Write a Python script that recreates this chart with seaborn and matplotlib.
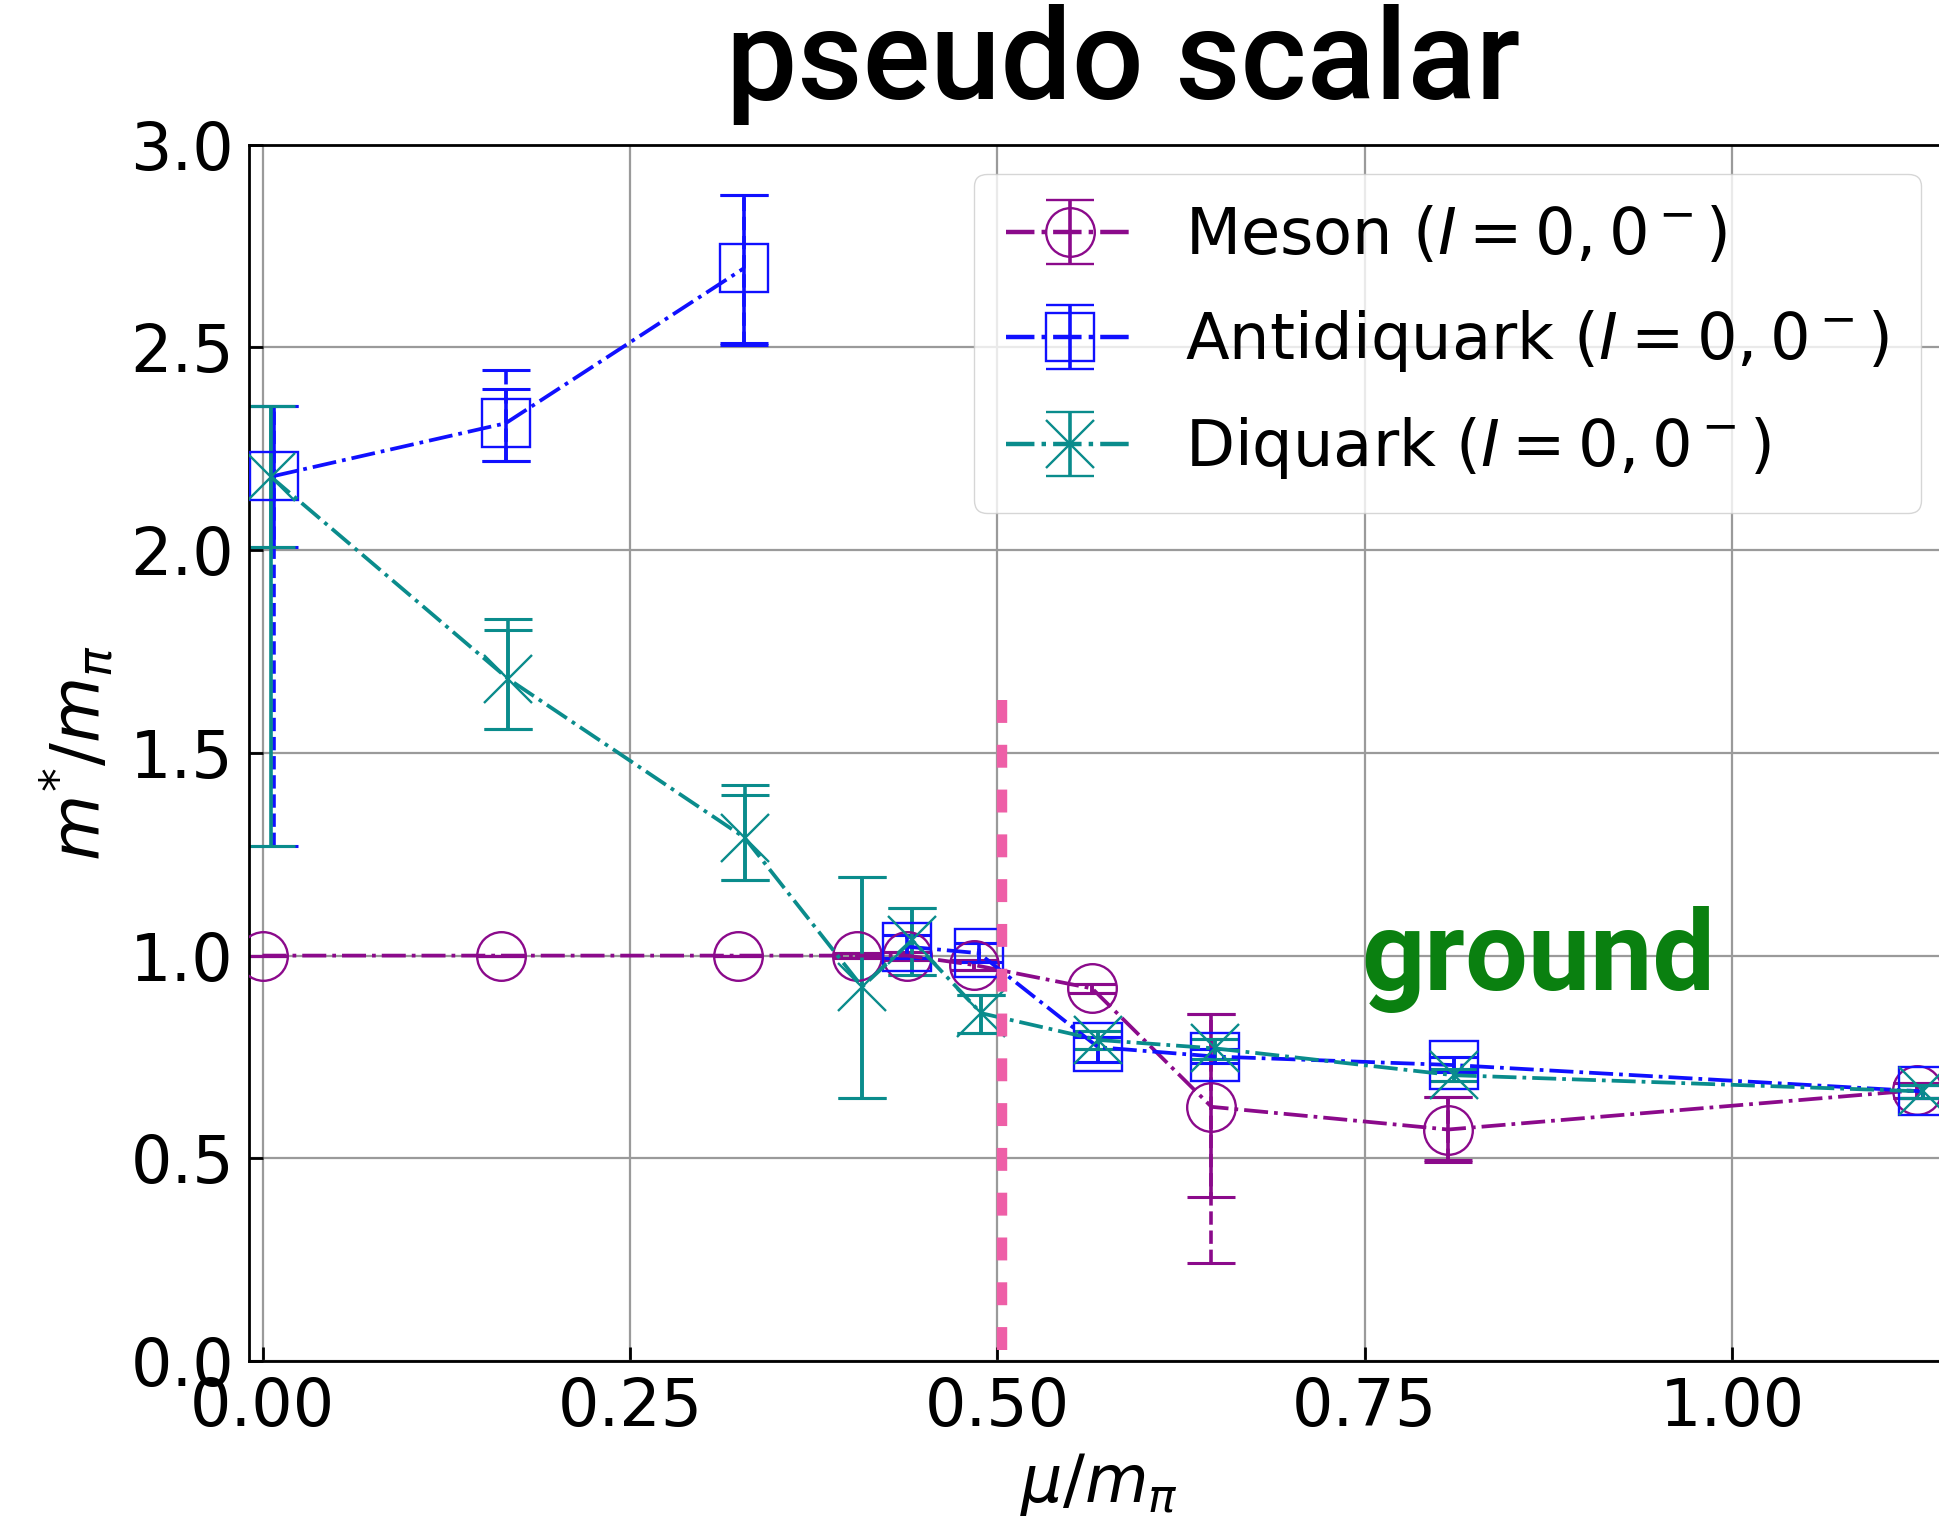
import numpy as np
import pandas as pd
import matplotlib
matplotlib.use("Agg")
import matplotlib.pyplot as plt
import seaborn as sns

# ---------------- data ----------------
mu_meson = [0.0, 0.1626, 0.3232, 0.4045, 0.4387, 0.484, 0.5645, 0.6457, 0.8067, 1.126]
m_meson = [1.0, 1.0, 1.0, 1.0, 1.0, 0.977, 0.919, 0.627, 0.571, 0.668]
meson_lo1 = [1.0, 1.0, 1.0, 0.994, 0.99, 0.965, 0.907, 0.405, 0.496, 0.65]
meson_hi1 = [1.0, 1.0, 1.0, 1.006, 1.01, 0.99, 0.930, 0.856, 0.652, 0.685]
meson_lo2 = [1.0, 1.0, 1.0, 0.994, 0.99, 0.965, 0.907, 0.241, 0.490, 0.65]
meson_hi2 = [1.0, 1.0, 1.0, 1.006, 1.01, 0.99, 0.930, 0.856, 0.652, 0.685]

mu_anti = [0.0078, 0.1654, 0.3274, 0.405, 0.4387, 0.4874, 0.5686, 0.6484, 0.8105, 1.13]
m_anti = [2.183, 2.313, 2.695, np.nan, 1.022, 1.006, 0.774, 0.751, 0.730, 0.665]
anti_lo1 = [2.009, 2.221, 2.512, np.nan, 0.995, 0.985, 0.738, 0.735, 0.712, 0.65]
anti_hi1 = [2.356, 2.397, 2.875, np.nan, 1.05, 1.03, 0.80, 0.77, 0.75, 0.68]
anti_lo2 = [1.270, 2.221, 2.505, np.nan, 0.995, 0.985, 0.738, 0.735, 0.712, 0.65]
anti_hi2 = [2.356, 2.444, 2.875, np.nan, 1.05, 1.03, 0.80, 0.77, 0.75, 0.68]

mu_di = [0.006, 0.167, 0.328, 0.408, 0.442, 0.489, 0.5686, 0.6484, 0.8105, 1.13]
m_di = [2.18, 1.683, 1.291, 0.923, 1.038, 0.858, 0.792, 0.771, 0.705, 0.665]
di_lo1 = [2.009, 1.560, 1.187, 0.648, 0.952, 0.808, 0.77, 0.745, 0.69, 0.65]
di_hi1 = [2.356, 1.803, 1.395, 1.193, 1.117, 0.903, 0.815, 0.795, 0.72, 0.68]
di_lo2 = [1.270, 1.560, 1.187, 0.648, 0.952, 0.808, 0.77, 0.745, 0.69, 0.65]
di_hi2 = [2.356, 1.831, 1.420, 1.193, 1.117, 0.903, 0.815, 0.795, 0.72, 0.68]

labels = [r"Meson $(I=0,0^-)$", r"Antidiquark $(I=0,0^-)$", r"Diquark $(I=0,0^-)$"]
title_text = "pseudo scalar"
note_text = "ground"
mu_c = 0.503          # position of the pink dashed marker line
mu_c_top = 1.63       # its upper end
x_ticks = [0.0, 0.25, 0.5, 0.75, 1.0]
y_ticks = [0.0, 0.5, 1.0, 1.5, 2.0, 2.5, 3.0]

# ---------------- style ----------------
sns.set_theme(style="whitegrid", rc={
    "axes.edgecolor": "black",
    "axes.linewidth": 2.0,
    "grid.color": "#9a9a9a",
    "grid.linewidth": 1.6,
    "xtick.bottom": True,
    "ytick.left": True,
    "text.color": "black",
    "axes.labelcolor": "black",
    "xtick.color": "black",
    "ytick.color": "black",
})
plt.rcParams["font.family"] = ["DejaVu Sans"]
plt.rcParams["mathtext.fontset"] = "dejavusans"

fig = plt.figure(figsize=(19.40, 15.19), dpi=100)
ax = fig.add_axes([0.1285, 0.104, 0.8765, 0.8007])

series = [
    ("meson", mu_meson, m_meson, meson_lo1, meson_hi1, meson_lo2, meson_hi2,
     "#8B0A8B", "o", "--", labels[0]),
    ("anti", mu_anti, m_anti, anti_lo1, anti_hi1, anti_lo2, anti_hi2,
     "#1010FF", "s", "--", labels[1]),
    ("di", mu_di, m_di, di_lo1, di_hi1, di_lo2, di_hi2,
     "#0A8C8C", "x", "-", labels[2]),
]

MS = 35
MEW = 1.7
LW = 2.7
ELW = 2.6
CAP = 17
handles = []
for name, xs, ys, lo1, hi1, lo2, hi2, col, mk, ls2, lab in series:
    xs = np.asarray(xs, float)
    ys = np.asarray(ys, float)
    lo1 = np.asarray(lo1, float); hi1 = np.asarray(hi1, float)
    lo2 = np.asarray(lo2, float); hi2 = np.asarray(hi2, float)

    df = pd.DataFrame({"mu": xs, "m": ys})
    df["seg"] = df["m"].isna().cumsum()
    df = df.dropna()
    sns.lineplot(data=df, x="mu", y="m", units="seg", estimator=None, sort=False,
                 ax=ax, color=col, marker=mk, markersize=MS,
                 markerfacecolor="none", markeredgecolor=col,
                 markeredgewidth=MEW, linestyle="-.", linewidth=LW,
                 legend=False, zorder=3)

    ok = ~np.isnan(ys)
    eb2 = ax.errorbar(xs[ok], ys[ok],
                      yerr=[ys[ok] - lo2[ok], hi2[ok] - ys[ok]],
                      fmt="none", ecolor=col, elinewidth=ELW,
                      capsize=CAP, capthick=2.2, zorder=2)
    eb2[2][0].set_linestyle(ls2)
    ax.errorbar(xs[ok], ys[ok],
                yerr=[ys[ok] - lo1[ok], hi1[ok] - ys[ok]],
                fmt="none", ecolor=col, elinewidth=ELW,
                capsize=CAP, capthick=2.2, zorder=2.5)

    h = ax.errorbar([np.nan], [np.nan], yerr=[0.1], fmt=mk, linestyle="-.",
                    color=col, ecolor=col, markersize=MS, markerfacecolor="none",
                    markeredgecolor=col, markeredgewidth=MEW, linewidth=3.2,
                    elinewidth=ELW, capsize=CAP, capthick=2.2, label=lab)
    handles.append(h)

# pink dashed marker line (drawn top-down so a dash starts at the top)
ax.plot([mu_c, mu_c], [mu_c_top, 0.0], color="#EE5FA7", linewidth=7.5,
        dashes=(2.2, 2.1), zorder=4, solid_capstyle="butt")

ax.set_xlim(-0.009, 1.148)
ax.set_ylim(0.0, 3.0)
ax.set_xticks(x_ticks)
ax.set_yticks(y_ticks)
ax.xaxis.set_major_formatter(matplotlib.ticker.FormatStrFormatter("%.2f"))
ax.yaxis.set_major_formatter(matplotlib.ticker.FormatStrFormatter("%.1f"))
ax.tick_params(axis="both", direction="in", length=10, width=2, pad=11,
               labelsize=47, colors="black", top=False, right=False)
ax.set_xlabel(r"$\mu/m_\pi$", fontsize=47, labelpad=8, color="black")
ax.set_ylabel(r"$m^{*}/m_\pi$", fontsize=49, labelpad=10, color="black")
for sp in ax.spines.values():
    sp.set_color("black")
    sp.set_linewidth(2.0)
ax.grid(True, color="#9a9a9a", linewidth=1.6)

leg = ax.legend(handles=handles, labels=labels, loc="upper right",
                fontsize=46, frameon=True, fancybox=True, framealpha=0.8,
                edgecolor="#cccccc", borderaxespad=0.45, labelspacing=0.64,
                borderpad=0.5, handlelength=2.0, handletextpad=0.8)
for t in leg.get_texts():
    t.set_color("black")

fig.text(0.7015, 0.348, note_text, color="#0A8010", fontsize=80,
         fontweight="bold", family=["Roboto", "Liberation Sans", "DejaVu Sans"],
         ha="left", va="baseline")
fig.text(0.579, 0.935, title_text, color="black", fontsize=91,
         fontweight="medium", family=["Roboto", "Liberation Sans", "DejaVu Sans"],
         ha="center", va="baseline")

fig.savefig("out.png", dpi=100)
